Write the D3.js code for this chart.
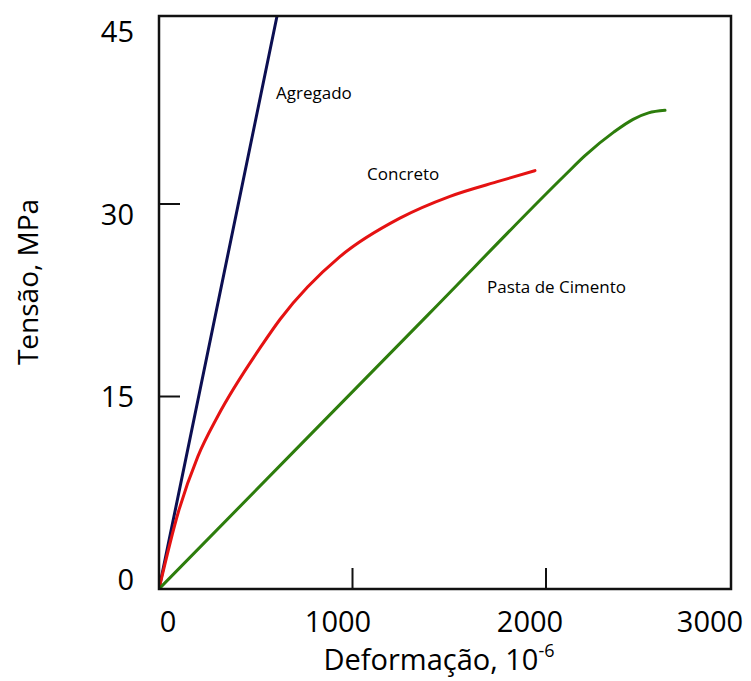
<!DOCTYPE html>
<html><head><meta charset="utf-8">
<script src="https://cdn.jsdelivr.net/npm/d3@7"></script>
<style>body{margin:0;background:#fff}svg{display:block}text{font-family:"Open Sans",sans-serif;fill:#000}</style>
</head><body><svg id="c" width="751" height="681"></svg>
<script>
// Data (strain in 10^-6, stress in MPa)
const agregado = [[0,0],[610,44.65]];
const concreto = [[0,0],[100,6],[200,10.3],[305,13.5],[532,19],[625,21],[935,25.9],[1245,28.9],[1504,30.6],[1762,31.8],[1943,32.6]];
const pasta = [[0,0],[700,10.76],[1400,21.52],[2100,32.28],[2200,33.75],[2350,35.6],[2450,36.6],[2530,37.1],[2615,37.3]];
const xTicks = [0,1000,2000,3000];
const yTicks = [0,15,30,45];
const seriesLabels = [
  {name:"Agregado", x:605, y:38.66},
  {name:"Concreto", x:1075, y:32.35},
  {name:"Pasta de Cimento", x:1695, y:23.54}
];
const colors = {"Agregado":"#0c0f52","Concreto":"#e51212","Pasta de Cimento":"#2d7d0c"};

const svg = d3.select("#c");
const L=159, R=731, T=16, B=589;
const x = d3.scaleLinear().domain([0,2956]).range([L,R]);
const y = d3.scaleLinear().domain([0,44.65]).range([B,T]);
// tick label placement scales (labels in the original are offset from ticks)
const xLab = d3.scaleLinear().domain([0,1000,2000,3000]).range([168,338,530,710]);
const yLab = d3.scaleLinear().domain([0,45]).range([580,32]);

svg.append("clipPath").attr("id","clip").append("rect").attr("x",L).attr("y",T).attr("width",R-L).attr("height",B-T);

const line = d3.line().x(d=>x(d[0])).y(d=>y(d[1])).curve(d3.curveMonotoneX);
const g = svg.append("g").attr("clip-path","url(#clip)");
[["Agregado",agregado],["Concreto",concreto],["Pasta de Cimento",pasta]].forEach(([n,d])=>{
  g.append("path").datum(d).attr("d",line).attr("fill","none").attr("stroke",colors[n]).attr("stroke-width",3).attr("stroke-linecap","round");
});

// frame
svg.append("rect").attr("x",L).attr("y",T).attr("width",R-L).attr("height",B-T).attr("fill","none").attr("stroke","#111").attr("stroke-width",2.5);
// ticks (inward)
xTicks.filter(v=>v>0 && x(v)<R-5).forEach(v=>{
  svg.append("line").attr("x1",x(v)).attr("x2",x(v)).attr("y1",B).attr("y2",B-21).attr("stroke","#111").attr("stroke-width",2);
});
yTicks.filter(v=>v>0 && y(v)>T+5).forEach(v=>{
  svg.append("line").attr("x1",L).attr("x2",L+21).attr("y1",y(v)).attr("y2",y(v)).attr("stroke","#111").attr("stroke-width",2);
});
// tick labels
xTicks.forEach(v=>{
  svg.append("text").attr("x",xLab(v)).attr("y",622).attr("dy","0.35em").attr("text-anchor","middle").attr("font-size",29).text(v);
});
yTicks.forEach(v=>{
  svg.append("text").attr("x",134).attr("y",yLab(v)).attr("dy","0.35em").attr("text-anchor","end").attr("font-size",29).text(v);
});
// axis titles
const xt = svg.append("text").attr("x",439).attr("y",670).attr("text-anchor","middle").attr("font-size",29);
xt.append("tspan").text("Deformação, 10");
xt.append("tspan").attr("dy",-13).attr("font-size",18).text("-6");
svg.append("text").attr("transform","translate(38,282) rotate(-90)").attr("text-anchor","middle").attr("font-size",28).text("Tensão, MPa");
// series labels
seriesLabels.forEach(s=>{
  svg.append("text").attr("x",x(s.x)).attr("y",y(s.y)).attr("dy","0.35em").attr("font-size",17).text(s.name);
});
</script></body></html>
